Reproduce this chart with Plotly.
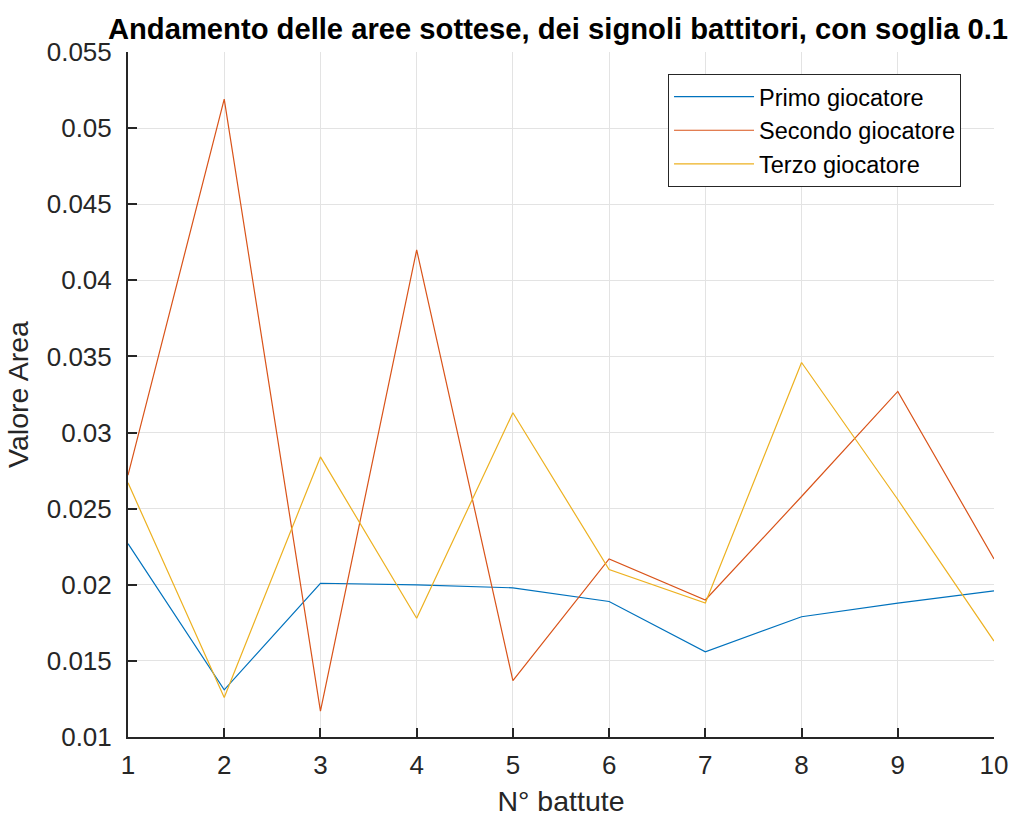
import plotly.graph_objects as go

battute = [1, 2, 3, 4, 5, 6, 7, 8, 9, 10]
primo = [0.0227, 0.0131, 0.0201, 0.0200, 0.0198, 0.0189, 0.0156, 0.0179, 0.0188, 0.0196]
secondo = [0.0272, 0.0519, 0.0117, 0.0420, 0.0137, 0.0217, 0.0190, 0.0258, 0.0327, 0.0217]
terzo = [0.0267, 0.0126, 0.0284, 0.0178, 0.0313, 0.0210, 0.0188, 0.0346, 0.0256, 0.0163]

y_ticks = [0.01, 0.015, 0.02, 0.025, 0.03, 0.035, 0.04, 0.045, 0.05, 0.055]
y_tick_text = ["0.01", "0.015", "0.02", "0.025", "0.03", "0.035", "0.04", "0.045", "0.05", "0.055"]

series = [
    ("Primo giocatore", primo, "#0072BD"),
    ("Secondo giocatore", secondo, "#D95319"),
    ("Terzo giocatore", terzo, "#EDB120"),
]

font_family = "Liberation Sans, Arial, sans-serif"
axis_color = "#262626"
grid_color = "#e3e3e3"

fig = go.Figure()
for name, vals, color in series:
    fig.add_trace(go.Scatter(
        x=battute, y=vals, mode="lines", name=name,
        line=dict(color=color, width=1.2),
    ))

fig.update_layout(
    width=1010, height=817,
    margin=dict(l=128, r=16, t=52, b=80),
    paper_bgcolor="white", plot_bgcolor="white",
    font=dict(family=font_family, color=axis_color, size=26),
    title=dict(
        text="<b>Andamento delle aree sottese, dei signoli battitori, con soglia 0.1</b>",
        x=0.5525, xanchor="center", y=0.9645, yanchor="middle",
        font=dict(size=29.2, color="black", family=font_family),
    ),
    legend=dict(
        x=0.6236, y=0.968, xanchor="left", yanchor="top",
        bordercolor=axis_color, borderwidth=1, bgcolor="white",
        font=dict(size=23.5, color="black"),
        tracegroupgap=0, itemwidth=80,
        entrywidth=210, entrywidthmode="pixels",
    ),
    showlegend=True,
)

fig.update_xaxes(
    range=[1, 10], tickvals=battute, ticktext=[str(b) for b in battute],
    showgrid=True, gridcolor=grid_color, gridwidth=1,
    showline=True, linecolor=axis_color, linewidth=2,
    ticks="inside", ticklen=9, tickcolor=axis_color, tickwidth=2,
    zeroline=False, tickfont=dict(size=26), ticklabelstandoff=4,
    automargin=False,
    title=dict(text="N° battute", font=dict(size=28.5), standoff=12),
)
fig.update_yaxes(
    range=[0.01, 0.055], tickvals=y_ticks, ticktext=y_tick_text,
    showgrid=True, gridcolor=grid_color, gridwidth=1,
    showline=True, linecolor=axis_color, linewidth=2,
    ticks="inside", ticklen=9, tickcolor=axis_color, tickwidth=2,
    zeroline=False, tickfont=dict(size=26), ticklabelstandoff=9,
    automargin=False,
    title=dict(text="Valore Area", font=dict(size=28.5), standoff=10),
)

fig.write_html("out.html")
